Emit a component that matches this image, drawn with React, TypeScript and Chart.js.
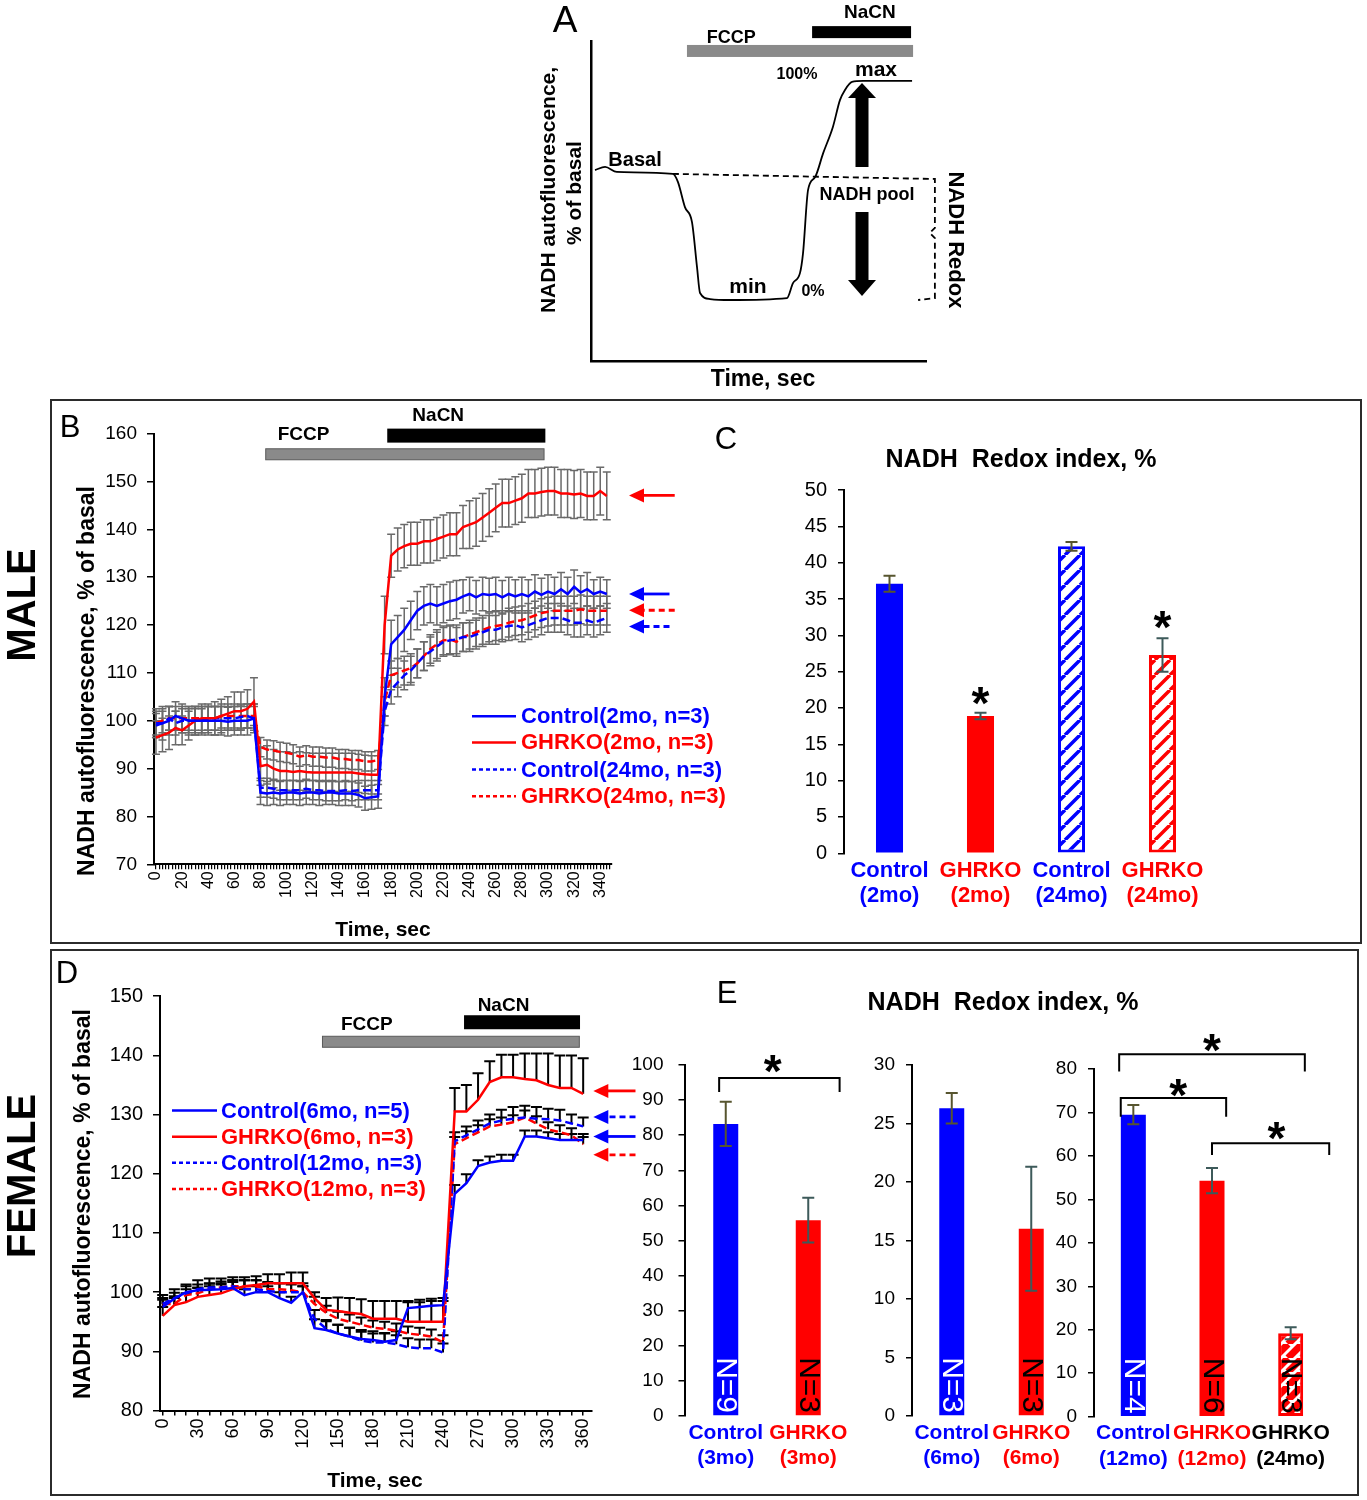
import React, { useEffect, useRef } from "react";
import { Chart, registerables } from "chart.js";

Chart.register(...registerables);

const PAGE_W = 1367;
const PAGE_H = 1500;
const BLUE = "#0000ff";
const RED = "#ff0000";
const SANS = '"Liberation Sans", Arial, Helvetica, sans-serif';
const NARROW = '"Liberation Sans Narrow", "Arial Narrow", "Liberation Sans", sans-serif';

/* ---------------- Panel A (schematic) ---------------- */
const A_CURVE_X = [1.2, 4.2, 7.7, 24.4, 25.9, 28.0, 30.1, 31.6, 32.5, 35.5, 41.4, 58.4, 60.2, 62.3, 63.2, 64.7, 66.8, 69.2, 72.1, 74.2, 75.7, 77.8, 81.1, 95.7];
const A_CURVE_Y = [59.8, 60.8, 59.2, 58.6, 56.1, 48.2, 43.5, 29.4, 21.3, 19.4, 19.1, 19.7, 24.4, 27.6, 33.8, 53.6, 57.6, 65.1, 73.3, 81.7, 84.9, 87.4, 87.7, 87.7];
const A_BRACE_X = [24.4, 102.5, 102.5, 101.0, 102.5, 102.5, 97.5];
const A_BRACE_Y = [58.6, 57.0, 41.7, 40.1, 38.5, 19.7, 19.1];
const A_TREAT = [
  { name: "FCCP", start: 28.6, end: 96.0, level: 97.1, thick: 12, fill: "#8a8a8a", labelX: 41.8, labelY: 101.3, size: 18 },
  { name: "NaCN", start: 65.9, end: 95.4, level: 103.0, thick: 12, fill: "#000000", labelX: 83.1, labelY: 109.0, size: 19 },
];

/* ---------------- Panel B (male time course) ---------------- */
const B_TIME = [0, 5, 10, 15, 20, 25, 30, 35, 40, 45, 50, 55, 60, 65, 70, 75, 80, 85, 90, 95, 100, 105, 110, 115, 120, 125, 130, 135, 140, 145, 150, 155, 160, 165, 170, 175, 180, 185, 190, 195, 200, 205, 210, 215, 220, 225, 230, 235, 240, 245, 250, 255, 260, 265, 270, 275, 280, 285, 290, 295, 300, 305, 310, 315, 320, 325, 330, 335, 340, 345];
const B_TICK_LABELS = [0, 20, 40, 60, 80, 100, 120, 140, 160, 180, 200, 220, 240, 260, 280, 300, 320, 340];
const B_CTRL2 = [99.5, 99.5, 100, 101, 100.5, 100, 100, 100, 100, 100, 100, 99.8, 100, 100, 100, 100.5,
  85, 84.8, 85, 84.8, 85, 85, 84.8, 85, 85, 84.8, 85, 85, 84.8, 84.8, 84.8, 84.5, 83.8, 84, 84.2,
  105, 116, 117.5, 119, 121, 123, 124, 124.5, 124, 124.5, 125, 125.3, 126, 126.5, 125.8, 126.5, 126.3, 126.5, 125.8, 126.5, 126, 126.5, 126, 127, 126.3, 127, 126.5, 127.5, 126.5, 128, 126.8, 127.5, 126.5, 127, 126.5];
const B_CTRL2_ERR = [3, 3.5, 3, 3, 3, 3, 3, 3, 3, 3, 3, 3, 3, 3, 3, 3,
  2.5, 2.5, 2.5, 2.5, 2.5, 2.5, 2.5, 2.5, 2.5, 2.5, 2.5, 2.5, 2.5, 2.5, 2.5, 2.5, 2.5, 2.5, 2.5,
  4, 5, 4.5, 4.5, 4, 4, 4, 4, 4, 4, 4, 4, 3.5, 3.5, 3.5, 3.5, 3.5, 3.5, 3.5, 3.5, 3.5, 3.5, 3.5, 3.5, 3.5, 3.5, 3.5, 3.5, 3.5, 3.5, 3.5, 3.5, 3, 3, 3];
const B_GHR2 = [96.5, 97, 97.5, 98.5, 98, 99, 100, 100.5, 100.5, 100.5, 101, 101.5, 102, 102, 102.5, 104,
  90.5, 90.8, 90, 89.5, 89.5, 89.3, 89.5, 89.3, 89.2, 89.2, 89.2, 89.2, 89.2, 89.2, 89.2, 89, 88.8, 88.7, 88.7,
  120, 134.5, 135.8, 136.5, 137, 137, 137.5, 137.5, 138, 138.5, 139, 139, 140.5, 141, 141.5, 142.5, 143.5, 144.5, 145.5, 145.5, 146, 146.5, 147.5, 147.5, 147.8, 148, 148, 147.5, 147.5, 147.3, 147.5, 147, 147, 148, 147];
const B_GHR2_ERR = [3.5, 3.5, 3.5, 3.5, 3, 3, 3, 3, 3, 3.5, 3.5, 3.5, 4, 4, 4, 5,
  4, 4, 4, 4, 4, 4, 4, 4, 4, 4, 4, 4, 4, 4, 4, 4, 4, 4, 4,
  6, 4.5, 4.5, 4.5, 4.5, 4.5, 4.5, 4.5, 4.5, 4.5, 4.5, 4.5, 4.5, 5, 5, 5, 5, 5, 5, 5, 5, 5, 5, 5, 5, 5, 5, 5, 5, 5, 5, 5, 5, 5, 5];
const B_CTRL24 = [99, 99.5, 100.5, 99.5, 100, 100, 100, 100, 100.5, 100.5, 100.5, 100.5, 100.5, 100.8, 101, 100.5,
  86, 86, 85.8, 85.5, 85.5, 85.5, 85.5, 85.8, 85.5, 85.5, 85.3, 85.3, 85.3, 85.5, 85.3, 85.5, 85.5, 85.5, 85.5,
  102, 106.5, 108, 109.5, 110.5, 112, 113.5, 114.5, 115.5, 116.5, 116.8, 117, 117.5, 117.5, 118, 118.5, 119, 119, 119.5, 119.8, 120, 119.5, 120, 120.5, 121, 121.5, 121.5, 121.5, 121, 120.5, 120.5, 121, 120.5, 121, 121.5];
const B_CTRL24_ERR = [2.5, 2.5, 2.5, 2.5, 2.5, 2.5, 2.5, 2.5, 2.5, 2.5, 2.5, 2.5, 2.5, 2.5, 2.5, 2.5,
  2, 2, 2, 2, 2, 2, 2, 2, 2, 2, 2, 2, 2, 2, 2, 2, 2, 2, 2,
  3, 3, 3, 3, 3, 3, 3, 3, 3, 3, 3, 3, 3, 3, 3, 3, 3, 3, 3, 3, 3, 3, 3, 3, 3, 3, 3, 3, 3, 3, 3, 3, 3, 3, 3];
const B_GHR24 = [99.5, 100, 100.5, 100.5, 100.5, 100.5, 100.5, 100.5, 100.5, 100.5, 101, 101, 101, 101, 101, 101,
  94.5, 94, 93.8, 93.5, 93.3, 93, 92.5, 92.8, 92.5, 92.5, 92.3, 92.3, 92, 92, 91.8, 91.8, 91.5, 91.5, 91.8,
  104, 109.5, 110, 110.5, 111, 112, 113.5, 115, 116, 116.8, 117, 116.5, 117.5, 118, 118.5, 119, 119.5, 119.8, 120, 120.5, 120.8, 121, 121.5, 122, 122.5, 122.8, 123, 123, 123, 123, 123.3, 123, 123, 123, 123];
const B_GHR24_ERR = [2.5, 2.5, 2.5, 2.5, 2.5, 2.5, 2.5, 2.5, 2.5, 2.5, 2.5, 2.5, 2.5, 2.5, 2.5, 2.5,
  2, 2, 2, 2, 2, 2, 2, 2, 2, 2, 2, 2, 2, 2, 2, 2, 2, 2, 2,
  3, 3, 3, 3, 3, 3, 3, 3, 3, 3, 3, 3, 3, 3, 3, 3, 3, 3, 3, 3, 3, 3, 3, 3, 3, 3, 3, 3, 3, 3, 3, 3, 3, 3, 3];
const B_LEGEND = ["Control(2mo, n=3)", "GHRKO(2mo, n=3)", "Control(24mo, n=3)", "GHRKO(24mo, n=3)"];
const B_COLORS = [BLUE, RED, BLUE, RED];
const B_DASHED = [false, false, true, true];
const B_ARROW_LEVEL = [126.5, 147.1, 119.7, 123.1];
const B_TREAT = [
  { name: "FCCP", start: 84, end: 297, level: 155.7, thick: 11, fill: "#8a8a8a", labelT: 113, labelV: 159.8 },
  { name: "NaCN", start: 177, end: 298, level: 159.6, thick: 14, fill: "#000000", labelT: 216, labelV: 163.8 },
];

/* ---------------- Panel C (male redox index) ---------------- */
const C_LABELS = [["Control", "(2mo)"], ["GHRKO", "(2mo)"], ["Control", "(24mo)"], ["GHRKO", "(24mo)"]];
const C_VALUES = [37.1, 18.9, 42.25, 27.3];
const C_ERRS = [1.1, 0.45, 0.6, 2.3];
const C_COLORS = [BLUE, RED, BLUE, RED];
const C_HATCHED = [false, false, true, true];
const C_STARS = [{ at: 1, level: 22.1 }, { at: 3, level: 32.6 }];

/* ---------------- Panel D (female time course) ---------------- */
const D_TIME = [0, 10, 20, 30, 40, 50, 60, 70, 80, 90, 100, 110, 120, 130, 140, 150, 160, 170, 180, 190, 200, 210, 220, 230, 240, 250, 260, 270, 280, 290, 300, 310, 320, 330, 340, 350, 360];
const D_TICK_LABELS = [0, 30, 60, 90, 120, 150, 180, 210, 240, 270, 300, 330, 360];
const D_CTRL6 = [97.5, 98.9, 100, 100.3, 100.4, 100.5, 100.7, 99.5, 100, 100, 99, 98.2, 100, 93.9, 93.6, 93, 92.5, 92.1, 91.9, 91.6, 91.9, 97.3, 97.5, 97.7, 97.8, 116.6, 118.4, 121.3, 121.9, 122.2, 122.2, 126.3, 126.3, 126, 125.7, 125.7, 125.7];
const D_CTRL6_ERR = [1.2, 1, 1, 1, 1, 1, 1, 1, 1, 1, 1, 1, 1, 1.5, 1.5, 1.5, 1.5, 1.5, 1.5, 1.5, 1.5, 1.2, 1.2, 1.2, 1.2, 1.5, 1.5, 1, 1, 1, 1, 1, 1, 1, 1, 1, 1];
const D_GHR6 = [96, 97.8, 98.3, 99.2, 99.5, 99.8, 100.5, 101, 101.2, 101.5, 101.5, 101.5, 101.5, 99, 97, 96.8, 96.5, 96.3, 95.5, 95.5, 95.5, 95, 95, 95, 95, 130.5, 130.5, 132.5, 135.5, 136.3, 136.3, 136, 135.8, 135, 134.5, 134.5, 133.5];
const D_GHR6_ERR = [1.5, 1.5, 1.5, 1.5, 1.5, 1.5, 1.5, 1.5, 1.5, 1.5, 1.5, 1.8, 1.8, 1, 2, 2.3, 2.5, 2.5, 3, 3, 3, 3.3, 3.3, 3.5, 3.5, 4, 4.5, 4.5, 3.5, 3.8, 3.8, 4.3, 4.5, 5.3, 5.5, 5.5, 6];
const D_CTRL12 = [98, 99, 99.8, 100.5, 100.8, 100.8, 101, 100.5, 100.5, 100.2, 100, 100, 100, 95.5, 93.8, 93, 92.5, 91.8, 91.5, 91.5, 91.2, 90.7, 90.5, 90.5, 89.8, 125.5, 126.5, 127.5, 128.5, 129, 129.3, 129.5, 129.3, 129.2, 129, 128.5, 128];
const D_CTRL12_ERR = [1.5, 1.5, 1.5, 1.5, 1.5, 1.5, 1.5, 1.5, 1.5, 1.5, 1.5, 1.5, 1.5, 1.5, 1.5, 1.5, 1.5, 1.5, 1.5, 1.5, 1.5, 1.5, 1.5, 1.5, 1.5, 1.5, 1.5, 1.5, 1.5, 1.8, 2, 2, 2, 1.8, 1.8, 1.5, 1.5];
const D_GHR12 = [98, 98, 99.5, 99.8, 100.5, 100.8, 101, 101, 101, 100.5, 100.5, 100.3, 100, 98, 96.5, 95.5, 95, 94.5, 94, 93.8, 93.5, 93, 92.8, 92.5, 91.5, 125, 126, 127, 128, 128.3, 128.7, 129.5, 128.5, 127.5, 127, 126.5, 125];
const D_GHR12_ERR = [1, 1, 1, 1, 1, 1, 1, 1, 1, 1, 1, 1, 1, 1.2, 1.2, 1.2, 1.2, 1.2, 1.2, 1.2, 1.2, 1.2, 1.2, 1.2, 1.2, 1.2, 1.2, 1.2, 1.2, 1.2, 1.2, 1.2, 1.2, 1.2, 1.2, 1.2, 1.2];
const D_LEGEND = ["Control(6mo, n=5)", "GHRKO(6mo, n=3)", "Control(12mo, n=3)", "GHRKO(12mo, n=3)"];
const D_COLORS = [BLUE, RED, BLUE, RED];
const D_DASHED = [false, false, true, true];
const D_ARROW_LEVEL = [126.3, 134.0, 129.6, 123.2];
const D_TREAT = [
  { name: "FCCP", start: 136.8, end: 356.7, level: 142.3, thick: 11, fill: "#8a8a8a", labelT: 174.8, labelV: 145.2 },
  { name: "NaCN", start: 258, end: 357.3, level: 145.6, thick: 14, fill: "#000000", labelT: 291.8, labelV: 148.4 },
];

/* ---------------- Panel E (female redox index) ---------------- */
const E1_LABELS = [["Control", "(3mo)"], ["GHRKO", "(3mo)"]];
const E1_VALUES = [83.2, 55.8];
const E1_ERRS = [6.3, 6.4];
const E1_N = ["N=9", "N=3"];
const E1_BRACKETS = [{ from: -0.08, to: 1.38, level: 96.3, drop: 4.0 }];
const E1_STARS = [{ at: 0.57, level: 101.3 }];

const E2_LABELS = [["Control", "(6mo)"], ["GHRKO", "(6mo)"]];
const E2_VALUES = [26.3, 16.0];
const E2_ERRS = [1.3, 5.3];
const E2_N = ["N=3", "N=3"];

const E3_LABELS = [["Control", "(12mo)"], ["GHRKO", "(12mo)"], ["GHRKO", "(24mo)"]];
const E3_VALUES = [69.5, 54.3, 19.2];
const E3_ERRS = [2.2, 2.9, 1.4];
const E3_N = ["N=4", "N=6", "N=3"];
const E3_BRACKETS = [
  { from: -0.18, to: 2.18, level: 83.4, drop: 4.0 },
  { from: -0.16, to: 1.18, level: 73.3, drop: 4.3 },
  { from: 1.0, to: 2.49, level: 62.9, drop: 2.7 },
];
const E3_STARS = [{ at: 1.0, level: 86.7 }, { at: 0.57, level: 76.3 }, { at: 1.82, level: 66.4 }];

/* ---------------- helpers ---------------- */
function drawText(ctx, s, x, y, font, color = "#000", align = "center", baseline = "middle", rot = 0) {
  ctx.save();
  ctx.translate(x, y);
  if (rot) ctx.rotate(rot);
  ctx.font = font;
  ctx.fillStyle = color;
  ctx.textAlign = align;
  ctx.textBaseline = baseline;
  ctx.fillText(s, 0, 0);
  ctx.restore();
}

function drawStar(ctx, x, yc) {
  const size = 46;
  drawText(ctx, "*", x, yc + size * 0.57, `bold ${size}px ${SANS}`, "#000", "center", "alphabetic");
}

function drawArrowLeft(ctx, tipX, tailX, y, color, dashed) {
  ctx.save();
  ctx.strokeStyle = color;
  ctx.fillStyle = color;
  ctx.lineWidth = 2.8;
  const head = 15;
  if (dashed) ctx.setLineDash([6, 4]);
  ctx.beginPath();
  ctx.moveTo(tailX, y);
  ctx.lineTo(tipX + head - 1, y);
  ctx.stroke();
  ctx.setLineDash([]);
  ctx.beginPath();
  ctx.moveTo(tipX, y);
  ctx.lineTo(tipX + head, y - 7);
  ctx.lineTo(tipX + head, y + 7);
  ctx.closePath();
  ctx.fill();
  ctx.restore();
}

function hatch(stripe, bg, size, lw) {
  const c = document.createElement("canvas");
  c.width = size;
  c.height = size;
  const g = c.getContext("2d");
  g.fillStyle = bg;
  g.fillRect(0, 0, size, size);
  g.strokeStyle = stripe;
  g.lineWidth = lw;
  g.beginPath();
  for (const k of [-1, 0, 1]) {
    g.moveTo(k * size, size);
    g.lineTo(k * size + size, 0);
  }
  g.stroke();
  return g.createPattern(c, "repeat");
}

function baseOptions(box, scales) {
  return {
    responsive: false,
    animation: false,
    devicePixelRatio: 1,
    events: [],
    layout: { padding: { left: 0, top: box.t, right: PAGE_W - box.r, bottom: 0 } },
    plugins: { legend: { display: false }, tooltip: { enabled: false }, title: { display: false } },
    scales,
  };
}

function drawLineErrors(chart, color, capHalf, lw, upOnly) {
  const ctx = chart.ctx;
  const ys = chart.scales.y;
  ctx.save();
  ctx.strokeStyle = color;
  ctx.lineWidth = lw;
  chart.data.datasets.forEach((ds, di) => {
    if (!ds.errs) return;
    const meta = chart.getDatasetMeta(di);
    meta.data.forEach((pt, i) => {
      const v = ds.data[i].y;
      const e = ds.errs[i];
      const x = pt.x;
      const yTop = ys.getPixelForValue(v + e);
      const yBot = upOnly ? pt.y : ys.getPixelForValue(v - e);
      ctx.beginPath();
      ctx.moveTo(x, yBot);
      ctx.lineTo(x, yTop);
      ctx.moveTo(x - capHalf, yTop);
      ctx.lineTo(x + capHalf, yTop);
      if (!upOnly) {
        ctx.moveTo(x - capHalf, yBot);
        ctx.lineTo(x + capHalf, yBot);
      }
      ctx.stroke();
    });
  });
  ctx.restore();
}

function drawTreatments(chart, list) {
  const ctx = chart.ctx;
  const xs = chart.scales.x;
  const ys = chart.scales.y;
  list.forEach((t) => {
    const x0 = xs.getPixelForValue(t.start);
    const x1 = xs.getPixelForValue(t.end);
    const yc = ys.getPixelForValue(t.level);
    ctx.save();
    ctx.fillStyle = t.fill;
    ctx.fillRect(x0, yc - t.thick / 2, x1 - x0, t.thick);
    if (t.fill !== "#000000") {
      ctx.strokeStyle = "#5a5a5a";
      ctx.lineWidth = 1;
      ctx.strokeRect(x0, yc - t.thick / 2, x1 - x0, t.thick);
    }
    ctx.restore();
    drawText(ctx, t.name, xs.getPixelForValue(t.labelT), ys.getPixelForValue(t.labelV), `bold 19px ${SANS}`);
  });
}

function drawLegend(ctx, labels, colors, dashed, x0, x1, tx, rows) {
  labels.forEach((lab, i) => {
    ctx.save();
    ctx.strokeStyle = colors[i];
    ctx.lineWidth = 2.5;
    if (dashed[i]) ctx.setLineDash([4, 3]);
    ctx.beginPath();
    ctx.moveTo(x0, rows[i]);
    ctx.lineTo(x1, rows[i]);
    ctx.stroke();
    ctx.restore();
    drawText(ctx, lab, tx, rows[i] + 1, `bold 22px ${SANS}`, colors[i], "left", "middle");
  });
}

function lineDatasets(times, series, colors, dashed, errs) {
  return series.map((vals, i) => ({
    data: times.map((t, k) => ({ x: t, y: vals[k] })),
    errs: errs[i],
    borderColor: colors[i],
    borderWidth: 2.5,
    borderDash: dashed[i] ? [8, 4] : [],
    pointRadius: 0,
    tension: 0,
    clip: false,
  }));
}

function yAxisOpts(box, min, max, step, font, pad, tickLen) {
  return {
    type: "linear",
    min,
    max,
    ticks: { stepSize: step, font, color: "#000", padding: pad },
    grid: { display: true, drawOnChartArea: false, drawTicks: true, tickLength: tickLen, color: "#000", tickColor: "#000", lineWidth: 1.5 },
    border: { display: true, color: "#000", width: 2 },
    afterFit: (s) => {
      s.width = box.l;
    },
  };
}

/* ---------------- chart configs ---------------- */
function configA() {
  const box = { l: 591, t: 41.7, r: 926.5, b: 361 };
  const plain = (isX) => ({
    type: "linear",
    min: 0,
    max: 100,
    ticks: { display: false },
    grid: { display: true, drawOnChartArea: false, drawTicks: false },
    border: { display: true, color: "#000", width: 2.5 },
    afterFit: (s) => {
      if (isX) s.height = PAGE_H - box.b;
      else s.width = box.l;
    },
  });
  return {
    type: "line",
    data: {
      datasets: [
        { data: A_CURVE_X.map((x, i) => ({ x, y: A_CURVE_Y[i] })), borderColor: "#000", borderWidth: 1.8, pointRadius: 0, cubicInterpolationMode: "monotone", clip: false },
        { data: A_BRACE_X.map((x, i) => ({ x, y: A_BRACE_Y[i] })), borderColor: "#000", borderWidth: 1.8, borderDash: [6, 4], pointRadius: 0, tension: 0, clip: false },
      ],
    },
    options: baseOptions(box, { x: plain(true), y: plain(false) }),
    plugins: [
      {
        id: "annA",
        afterDraw(chart) {
          const ctx = chart.ctx;
          const xs = chart.scales.x;
          const ys = chart.scales.y;
          A_TREAT.forEach((t) => {
            const x0 = xs.getPixelForValue(t.start);
            const x1 = xs.getPixelForValue(t.end);
            const yc = ys.getPixelForValue(t.level);
            ctx.save();
            ctx.fillStyle = t.fill;
            ctx.fillRect(x0, yc - t.thick / 2, x1 - x0, t.thick);
            ctx.restore();
            drawText(ctx, t.name, xs.getPixelForValue(t.labelX), ys.getPixelForValue(t.labelY), `bold ${t.size}px ${SANS}`);
          });
          drawText(ctx, "A", 565, 22, `37px ${SANS}`);
          drawText(ctx, "100%", 797, 75, `bold 16px ${SANS}`);
          drawText(ctx, "max", 876, 70, `bold 21px ${SANS}`);
          drawText(ctx, "Basal", 635, 160, `bold 20px ${SANS}`);
          drawText(ctx, "NADH pool", 867, 195, `bold 18px ${SANS}`);
          drawText(ctx, "min", 748, 287, `bold 21px ${SANS}`);
          drawText(ctx, "0%", 813, 292, `bold 16px ${SANS}`);
          drawText(ctx, "NADH Redox", 955, 240, `bold 22px ${SANS}`, "#000", "center", "middle", Math.PI / 2);
          drawText(ctx, "NADH autofluorescence,", 549, 190, `bold 21px ${SANS}`, "#000", "center", "middle", -Math.PI / 2);
          drawText(ctx, "% of basal", 575, 193, `bold 21px ${SANS}`, "#000", "center", "middle", -Math.PI / 2);
          drawText(ctx, "Time, sec", 763, 380, `bold 23px ${SANS}`);
          const ax = 862;
          ctx.save();
          ctx.fillStyle = "#000";
          ctx.beginPath();
          ctx.moveTo(ax, 83);
          ctx.lineTo(ax - 14, 98);
          ctx.lineTo(ax + 14, 98);
          ctx.closePath();
          ctx.fill();
          ctx.fillRect(ax - 6.5, 97, 13, 167 - 97);
          ctx.fillRect(ax - 6.5, 212, 13, 281 - 212);
          ctx.beginPath();
          ctx.moveTo(ax, 296);
          ctx.lineTo(ax - 14, 280);
          ctx.lineTo(ax + 14, 280);
          ctx.closePath();
          ctx.fill();
          ctx.restore();
        },
      },
    ],
  };
}

function configB() {
  const box = { l: 154, t: 433.7, r: 612, b: 864.3 };
  const minor = [];
  for (let v = 0; v <= 347.5; v += 2.5) minor.push(v);
  return {
    type: "line",
    data: { datasets: lineDatasets(B_TIME, [B_CTRL2, B_GHR2, B_CTRL24, B_GHR24], B_COLORS, B_DASHED, [B_CTRL2_ERR, B_GHR2_ERR, B_CTRL24_ERR, B_GHR24_ERR]) },
    options: baseOptions(box, {
      x: {
        type: "linear",
        min: -1.5,
        max: 349,
        afterBuildTicks: (s) => {
          s.ticks = minor.map((v) => ({ value: v }));
        },
        ticks: {
          autoSkip: false,
          maxRotation: 90,
          minRotation: 90,
          font: { family: SANS, size: 16 },
          color: "#000",
          padding: 2,
          callback: (v) => (B_TICK_LABELS.includes(v) ? String(v) : ""),
        },
        grid: { display: true, drawOnChartArea: false, tickLength: 5, color: "#000", tickColor: "#000", lineWidth: 1.2 },
        border: { display: true, color: "#000", width: 2 },
        afterFit: (s) => {
          s.height = PAGE_H - box.b;
        },
      },
      y: yAxisOpts(box, 70, 160, 10, { family: SANS, size: 19 }, 10, 7),
    }),
    plugins: [
      {
        id: "annB",
        beforeDatasetsDraw(chart) {
          drawLineErrors(chart, "#6a6a6a", 4, 1.5, false);
        },
        afterDraw(chart) {
          const ctx = chart.ctx;
          const xs = chart.scales.x;
          const ys = chart.scales.y;
          ctx.save();
          ctx.strokeStyle = "#2b2b2b";
          ctx.lineWidth = 2;
          ctx.strokeRect(51, 400, 1310, 543);
          ctx.strokeRect(51, 950, 1307, 545);
          ctx.restore();
          drawText(ctx, "MALE", 24, 605, `bold 40px ${SANS}`, "#000", "center", "middle", -Math.PI / 2);
          drawText(ctx, "FEMALE", 24, 1176, `bold 40px ${SANS}`, "#000", "center", "middle", -Math.PI / 2);
          drawText(ctx, "B", 70, 428, `31px ${SANS}`);
          drawText(ctx, "NADH autofluorescence, % of basal", 88, 681, `bold 23px ${SANS}`, "#000", "center", "middle", -Math.PI / 2);
          drawText(ctx, "Time, sec", 383, 930, `bold 21px ${SANS}`);
          drawTreatments(chart, B_TREAT);
          drawLegend(ctx, B_LEGEND, B_COLORS, B_DASHED, 472, 516, 521, [716.3, 742.4, 769.5, 796.3]);
          B_ARROW_LEVEL.forEach((lv, i) => {
            drawArrowLeft(ctx, xs.getPixelForValue(362), xs.getPixelForValue(B_COLORS[i] === RED ? 397 : 393), ys.getPixelForValue(lv), B_COLORS[i], B_DASHED[i]);
          });
        },
      },
    ],
  };
}

function configD() {
  const box = { l: 160, t: 996.2, r: 591.7, b: 1410.5 };
  return {
    type: "line",
    data: { datasets: lineDatasets(D_TIME, [D_CTRL6, D_GHR6, D_CTRL12, D_GHR12], D_COLORS, D_DASHED, [D_CTRL6_ERR, D_GHR6_ERR, D_CTRL12_ERR, D_GHR12_ERR]) },
    options: baseOptions(box, {
      x: {
        type: "linear",
        min: -2.3,
        max: 367.3,
        afterBuildTicks: (s) => {
          s.ticks = D_TIME.map((v) => ({ value: v }));
        },
        ticks: {
          autoSkip: false,
          maxRotation: 90,
          minRotation: 90,
          font: { family: NARROW, size: 18 },
          color: "#000",
          padding: 3,
          callback: (v) => (D_TICK_LABELS.includes(v) ? String(v) : ""),
        },
        grid: { display: true, drawOnChartArea: false, tickLength: 5, color: "#000", tickColor: "#000", lineWidth: 1.5 },
        border: { display: true, color: "#000", width: 2 },
        afterFit: (s) => {
          s.height = PAGE_H - box.b;
        },
      },
      y: yAxisOpts(box, 80, 150, 10, { family: SANS, size: 20 }, 10, 7),
    }),
    plugins: [
      {
        id: "annD",
        beforeDatasetsDraw(chart) {
          drawLineErrors(chart, "#000", 5.5, 2, true);
        },
        afterDraw(chart) {
          const ctx = chart.ctx;
          const xs = chart.scales.x;
          const ys = chart.scales.y;
          drawText(ctx, "D", 67, 974, `31px ${SANS}`);
          drawText(ctx, "NADH autofluorescence, % of basal", 84, 1204, `bold 23px ${SANS}`, "#000", "center", "middle", -Math.PI / 2);
          drawText(ctx, "Time, sec", 375, 1481, `bold 21px ${SANS}`);
          drawTreatments(chart, D_TREAT);
          drawLegend(ctx, D_LEGEND, D_COLORS, D_DASHED, 172, 217, 221, [1110.6, 1136.7, 1162.7, 1189.1]);
          D_ARROW_LEVEL.forEach((lv, i) => {
            drawArrowLeft(ctx, xs.getPixelForValue(368.7), xs.getPixelForValue(404.8), ys.getPixelForValue(lv), D_COLORS[i], D_DASHED[i]);
          });
        },
      },
    ],
  };
}

function barConfig(o) {
  const box = o.box;
  return {
    type: "bar",
    data: {
      labels: o.labels,
      datasets: [
        {
          data: o.values,
          backgroundColor: o.fills,
          borderColor: o.borders,
          borderWidth: o.borderWidths,
          borderSkipped: false,
          barPercentage: o.barPct,
          categoryPercentage: 1,
        },
      ],
    },
    options: baseOptions(box, {
      x: {
        grid: { display: false, drawTicks: false },
        border: { display: false },
        ticks: {
          autoSkip: false,
          maxRotation: 0,
          minRotation: 0,
          padding: o.labelPad,
          color: (c) => o.labelColors[c.index],
          font: { family: SANS, size: o.labelSize || 22, weight: "bold", lineHeight: o.lineH },
        },
        afterFit: (s) => {
          s.height = PAGE_H - box.b;
        },
      },
      y: yAxisOpts(box, 0, o.max, o.step, o.tickFont, o.tickPad, 6),
    }),
    plugins: [
      {
        id: "barExtras",
        afterDatasetsDraw(chart) {
          const ctx = chart.ctx;
          const ys = chart.scales.y;
          const meta = chart.getDatasetMeta(0);
          meta.data.forEach((bar, i) => {
            const v = o.values[i];
            const e = o.errs[i];
            const x = bar.x;
            const yt = ys.getPixelForValue(v + e);
            const yb = ys.getPixelForValue(v - e);
            ctx.save();
            ctx.strokeStyle = o.labelColors[i] === BLUE ? "#57552f" : "#3d5a5a";
            ctx.lineWidth = 2;
            ctx.beginPath();
            ctx.moveTo(x, yt);
            ctx.lineTo(x, yb);
            ctx.moveTo(x - 6, yt);
            ctx.lineTo(x + 6, yt);
            ctx.moveTo(x - 6, yb);
            ctx.lineTo(x + 6, yb);
            ctx.stroke();
            ctx.restore();
            if (o.nLabels) {
              drawText(ctx, o.nLabels[i], x, ys.getPixelForValue(0) - 3, `30px ${NARROW}`, o.labelColors[i] === BLUE ? "#fff" : "#000", "right", "middle", Math.PI / 2);
            }
          });
        },
        afterDraw(chart) {
          const ctx = chart.ctx;
          const xs = chart.scales.x;
          const ys = chart.scales.y;
          (o.brackets || []).forEach((b) => {
            const x0 = xs.getPixelForValue(b.from);
            const x1 = xs.getPixelForValue(b.to);
            const y = ys.getPixelForValue(b.level);
            const yd = ys.getPixelForValue(b.level - b.drop);
            ctx.save();
            ctx.strokeStyle = "#000";
            ctx.lineWidth = 2;
            ctx.beginPath();
            ctx.moveTo(x0, yd);
            ctx.lineTo(x0, y);
            ctx.lineTo(x1, y);
            ctx.lineTo(x1, yd);
            ctx.stroke();
            ctx.restore();
          });
          (o.stars || []).forEach((s) => drawStar(ctx, xs.getPixelForValue(s.at), ys.getPixelForValue(s.level)));
          if (o.extra) o.extra(ctx);
        },
      },
    ],
  };
}

function configC() {
  const blueHatch = hatch(BLUE, "#ffffff", 15, 3.5);
  const redHatch = hatch(RED, "#ffffff", 15, 3.5);
  return barConfig({
    box: { l: 844, t: 490, r: 1208, b: 853.3 },
    labels: C_LABELS,
    labelColors: C_COLORS,
    values: C_VALUES,
    errs: C_ERRS,
    fills: C_COLORS.map((c, i) => (C_HATCHED[i] ? (c === BLUE ? blueHatch : redHatch) : c)),
    borders: C_COLORS,
    borderWidths: C_HATCHED.map((h) => (h ? 3 : 0)),
    barPct: 0.297,
    max: 50,
    step: 5,
    tickFont: { family: SANS, size: 20 },
    tickPad: 11,
    labelPad: 5,
    labelSize: 22,
    lineH: 1.14,
    stars: C_STARS,
    extra: (ctx) => {
      drawText(ctx, "C", 726, 440, `31px ${SANS}`);
      drawText(ctx, "NADH  Redox index, %", 1021, 460, `bold 25px ${SANS}`);
    },
  });
}

function configE1() {
  return barConfig({
    box: { l: 684.5, t: 1065, r: 849.5, b: 1416 },
    labels: E1_LABELS,
    labelColors: [BLUE, RED],
    values: E1_VALUES,
    errs: E1_ERRS,
    fills: [BLUE, RED],
    borders: [BLUE, RED],
    borderWidths: [0, 0],
    barPct: 0.303,
    max: 100,
    step: 10,
    tickFont: { family: NARROW, size: 19 },
    tickPad: 15,
    labelPad: 4,
    labelSize: 21,
    lineH: 1.22,
    nLabels: E1_N,
    brackets: E1_BRACKETS,
    stars: E1_STARS,
    extra: (ctx) => {
      drawText(ctx, "E", 727, 994, `31px ${SANS}`);
      drawText(ctx, "NADH  Redox index, %", 1003, 1003, `bold 25px ${SANS}`);
    },
  });
}

function configE2() {
  return barConfig({
    box: { l: 912, t: 1065, r: 1071, b: 1416 },
    labels: E2_LABELS,
    labelColors: [BLUE, RED],
    values: E2_VALUES,
    errs: E2_ERRS,
    fills: [BLUE, RED],
    borders: [BLUE, RED],
    borderWidths: [0, 0],
    barPct: 0.314,
    max: 30,
    step: 5,
    tickFont: { family: NARROW, size: 19 },
    tickPad: 11,
    labelPad: 4,
    labelSize: 21,
    lineH: 1.22,
    nLabels: E2_N,
  });
}

function configE3() {
  const redHatch = hatch(RED, "#ffffff", 14, 7);
  return barConfig({
    box: { l: 1094, t: 1069, r: 1330, b: 1416.7 },
    labels: E3_LABELS,
    labelColors: [BLUE, RED, "#000"],
    values: E3_VALUES,
    errs: E3_ERRS,
    fills: [BLUE, RED, redHatch],
    borders: [BLUE, RED, RED],
    borderWidths: [0, 0, 3],
    barPct: 0.318,
    max: 80,
    step: 10,
    tickFont: { family: NARROW, size: 19 },
    tickPad: 11,
    labelPad: 4,
    labelSize: 21,
    lineH: 1.22,
    nLabels: E3_N,
    brackets: E3_BRACKETS,
    stars: E3_STARS,
  });
}

export default function App() {
  const canvases = useRef([]);
  useEffect(() => {
    document.body.style.margin = "0";
    const configs = [configA(), configB(), configC(), configD(), configE1(), configE2(), configE3()];
    const charts = configs.map((cfg, i) => new Chart(canvases.current[i], cfg));
    return () => charts.forEach((c) => c.destroy());
  }, []);
  return (
    <div style={{ position: "relative", width: PAGE_W, height: PAGE_H, background: "#fff", overflow: "hidden" }}>
      {[0, 1, 2, 3, 4, 5, 6].map((i) => (
        <canvas
          key={i}
          ref={(el) => {
            canvases.current[i] = el;
          }}
          width={PAGE_W}
          height={PAGE_H}
          style={{ position: "absolute", left: 0, top: 0, width: PAGE_W, height: PAGE_H }}
        />
      ))}
    </div>
  );
}
